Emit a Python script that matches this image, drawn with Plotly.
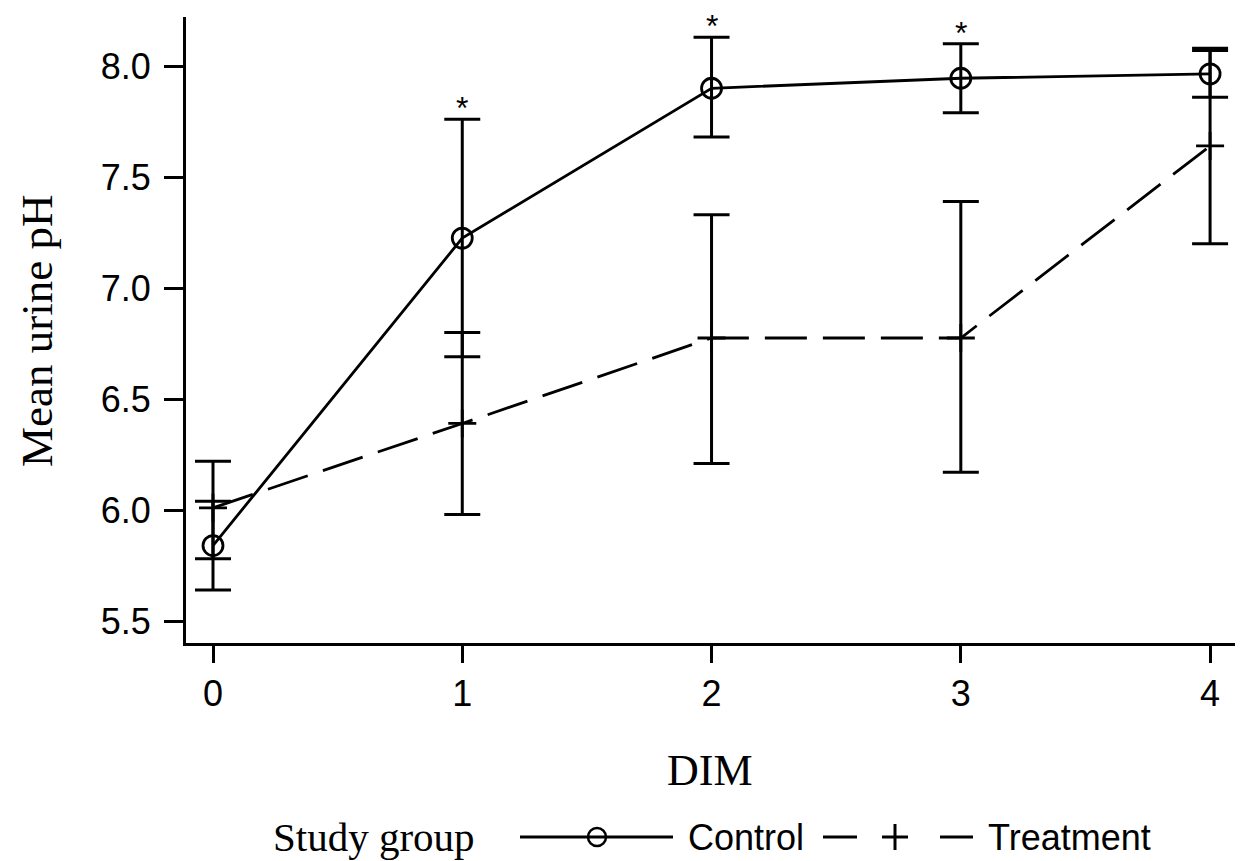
import plotly.graph_objects as go

# ---- data ----
dim = [0, 1, 2, 3, 4]
tick_vals_y = [5.5, 6.0, 6.5, 7.0, 7.5, 8.0]
tick_text_y = ["5.5", "6.0", "6.5", "7.0", "7.5", "8.0"]

control_mean = [5.84, 7.225, 7.90, 7.945, 7.965]
control_upper = [6.04, 7.76, 8.13, 8.10, 8.07]
control_lower = [5.64, 6.69, 7.68, 7.79, 7.86]

treat_mean = [6.01, 6.39, 6.775, 6.775, 7.64]
treat_upper = [6.22, 6.80, 7.33, 7.39, 8.08]
treat_lower = [5.78, 5.98, 6.21, 6.17, 7.20]

sig_days = [1, 2, 3]

SANS = "Liberation Sans, Arial, sans-serif"
SERIF = "Liberation Serif, Times New Roman, serif"

# page body has an 8px margin: figure origin is at (8, 8) in the window
OFF = 8
W, H = 1235, 853
L, R, T, B = 178, 6, 9, 218
PW = W - L - R
PH = H - T - B

fig = go.Figure()

fig.add_trace(go.Scatter(
    x=dim, y=treat_mean, mode="lines+markers", name="Treatment",
    line=dict(color="black", width=2.8, dash="42px,16px"),
    marker=dict(symbol="cross-thin-open", size=20, color="black",
                line=dict(color="black", width=2.8)),
    error_y=dict(type="data", symmetric=False,
                 array=[u - m for u, m in zip(treat_upper, treat_mean)],
                 arrayminus=[m - l for m, l in zip(treat_mean, treat_lower)],
                 color="black", thickness=3, width=18),
    showlegend=False,
))

fig.add_trace(go.Scatter(
    x=dim, y=control_mean, mode="lines+markers", name="Control",
    line=dict(color="black", width=2.8),
    marker=dict(symbol="circle-open", size=20, color="black",
                line=dict(color="black", width=2.8)),
    error_y=dict(type="data", symmetric=False,
                 array=[u - m for u, m in zip(control_upper, control_mean)],
                 arrayminus=[m - l for m, l in zip(control_mean, control_lower)],
                 color="black", thickness=3, width=18),
    showlegend=False,
))

# significance asterisks
for d in sig_days:
    fig.add_annotation(x=d, y=control_upper[d], xref="x", yref="y",
                       text="*", showarrow=False, yanchor="middle", yshift=11,
                       font=dict(family=SANS, size=32, color="black"))


def px(xp):
    return (xp - OFF - L) / PW


def py(yp):
    return (H - B - (yp - OFF)) / PH


# axis titles
fig.add_annotation(x=px(37), y=py(331), xref="paper", yref="paper",
                   text="Mean urine pH", textangle=-90, showarrow=False,
                   xanchor="center", yanchor="middle",
                   font=dict(family=SERIF, size=45, color="black"))
fig.add_annotation(x=px(710), y=py(770), xref="paper", yref="paper",
                   text="DIM", showarrow=False, xanchor="center", yanchor="middle",
                   font=dict(family=SERIF, size=44, color="black"))

# manual legend
ly = 837
fig.add_annotation(x=px(272), y=py(ly), xref="paper", yref="paper", text="Study group",
                   showarrow=False, xanchor="left", yanchor="middle", borderpad=0,
                   font=dict(family=SERIF, size=41, color="black"))
fig.add_shape(type="line", xref="paper", yref="paper", x0=px(520), x1=px(673),
              y0=py(ly), y1=py(ly), line=dict(color="black", width=3))
fig.add_shape(type="circle", xref="paper", yref="paper", x0=px(588), x1=px(606),
              y0=py(ly + 9), y1=py(ly - 9), line=dict(color="black", width=2.5),
              fillcolor="rgba(0,0,0,0)")
fig.add_annotation(x=px(687), y=py(ly), xref="paper", yref="paper", text="Control",
                   showarrow=False, xanchor="left", yanchor="middle", borderpad=0,
                   font=dict(family=SANS, size=36, color="black"))
fig.add_shape(type="line", xref="paper", yref="paper", x0=px(823), x1=px(857),
              y0=py(ly), y1=py(ly), line=dict(color="black", width=3))
fig.add_shape(type="line", xref="paper", yref="paper", x0=px(882), x1=px(908),
              y0=py(ly), y1=py(ly), line=dict(color="black", width=3))
fig.add_shape(type="line", xref="paper", yref="paper", x0=px(895), x1=px(895),
              y0=py(ly - 13), y1=py(ly + 13), line=dict(color="black", width=3))
fig.add_shape(type="line", xref="paper", yref="paper", x0=px(940), x1=px(973),
              y0=py(ly), y1=py(ly), line=dict(color="black", width=3))
fig.add_annotation(x=px(987), y=py(ly), xref="paper", yref="paper", text="Treatment",
                   showarrow=False, xanchor="left", yanchor="middle", borderpad=0,
                   font=dict(family=SANS, size=36, color="black"))

fig.update_layout(
    width=W, height=H,
    margin=dict(l=L, r=R, t=T, b=B),
    paper_bgcolor="white", plot_bgcolor="white",
    showlegend=False,
)
fig.update_xaxes(
    range=[-0.1083, 4.108], tickvals=dim, ticktext=[str(d) for d in dim],
    showline=True, linecolor="black", linewidth=3, mirror=False,
    ticks="outside", ticklen=17, tickwidth=3, tickcolor="black",
    showgrid=False, zeroline=False,
    tickfont=dict(family=SANS, size=36, color="black"),
)
fig.update_yaxes(
    range=[5.401, 8.221], tickvals=tick_vals_y, ticktext=tick_text_y,
    showline=True, linecolor="black", linewidth=3, mirror=False,
    ticks="outside", ticklen=19, tickwidth=3, tickcolor="black",
    showgrid=False, zeroline=False, ticklabelstandoff=6,
    tickfont=dict(family=SANS, size=36, color="black"),
)

fig.write_html("out.html")
